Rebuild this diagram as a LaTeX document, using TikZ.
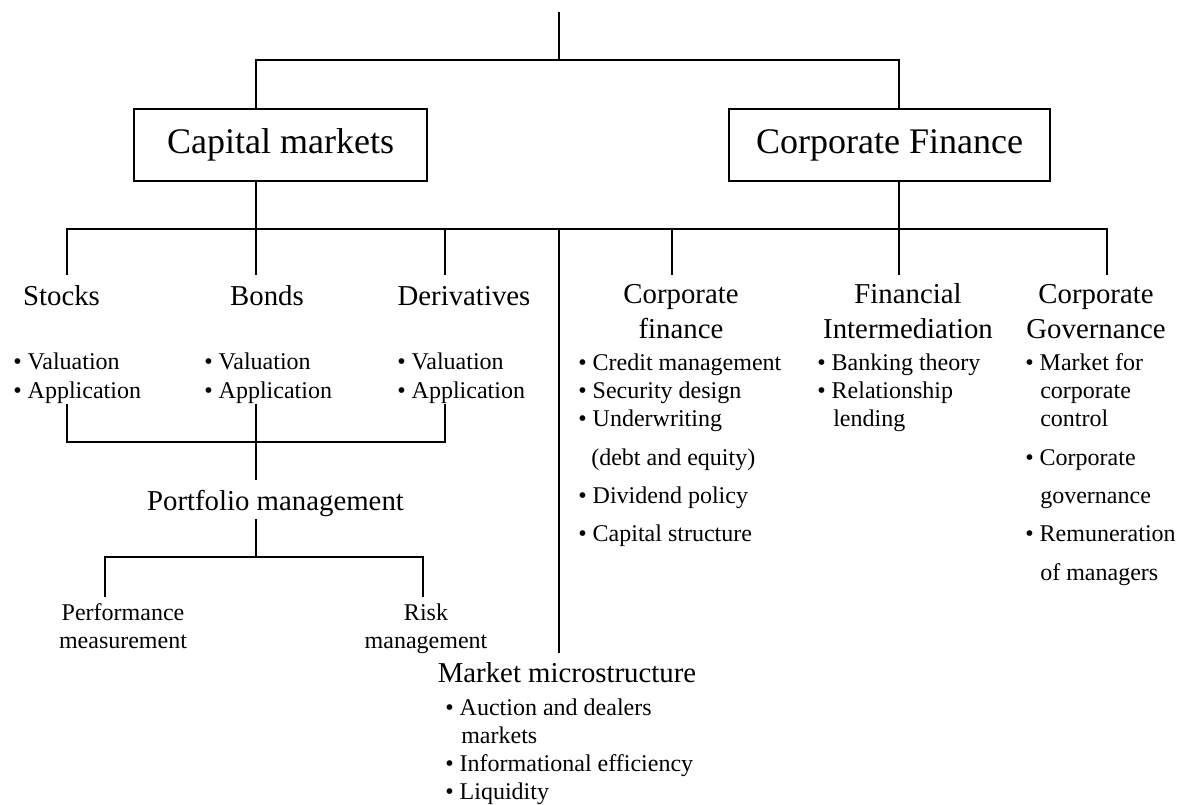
\documentclass[tikz,border=0pt]{standalone}
\usepackage{fontspec}
\setmainfont{Liberation Serif}
\begin{document}
\begin{tikzpicture}[x=1pt, y=-1pt, line width=2.6pt,
	topic/.style={draw, font=\fontsize{36}{43}\selectfont, minimum height=72pt, inner sep=0pt},
	head/.style={font=\fontsize{28.8}{34}\selectfont, anchor=base, inner sep=0pt},
	item/.style={font=\fontsize{24}{28}\selectfont, anchor=base west, inner sep=0pt},
	leaf/.style={font=\fontsize{24}{28}\selectfont, anchor=base, inner sep=0pt}]
	
	\useasboundingbox (0,0) rectangle (1188,805);
	
	\node[topic, minimum width=293pt] (cm) at (280.5,145) {Capital markets};
	\node[topic, minimum width=321pt] (cf) at (889.5,145) {Corporate Finance};
	
	\node[head] (stk) at (61.5,305) {Stocks};
	\node[head] (bnd) at (267,305) {Bonds};
	\node[head] (drv) at (464,305) {Derivatives};
	\node[head] (cfn1) at (681,303) {Corporate};
	\node[head] (cfn2) at (681,338) {finance};
	\node[head] (fin1) at (908,303) {Financial};
	\node[head] (fin2) at (908,338) {Intermediation};
	\node[head] (gov1) at (1096,303) {Corporate};
	\node[head] (gov2) at (1096,338) {Governance};
	\node[head] (pfm) at (275.5,510) {Portfolio management};
	\node[head] (mic) at (567,682) {Market microstructure};
	
	\node[item] (stk-v) at (12,369) {\textbullet\ Valuation};
	\node[item] (stk-a) at (12,398) {\textbullet\ Application};
	\node[item] (bnd-v) at (203,369) {\textbullet\ Valuation};
	\node[item] (bnd-a) at (203,398) {\textbullet\ Application};
	\node[item] (drv-v) at (396,369) {\textbullet\ Valuation};
	\node[item] (drv-a) at (396,398) {\textbullet\ Application};
	
	\node[item] (cfn-a) at (577,370) {\textbullet\ Credit management};
	\node[item] (cfn-b) at (577,398) {\textbullet\ Security design};
	\node[item] (cfn-c) at (577,426) {\textbullet\ Underwriting};
	\node[item] (cfn-d) at (590,465) {(debt and equity)};
	\node[item] (cfn-e) at (577,503) {\textbullet\ Dividend policy};
	\node[item] (cfn-f) at (577,541) {\textbullet\ Capital structure};
	
	\node[item] (fin-a) at (816,370) {\textbullet\ Banking theory};
	\node[item] (fin-b) at (816,398) {\textbullet\ Relationship};
	\node[item] (fin-c) at (832,426) {lending};
	
	\node[item] (gov-a) at (1024,370) {\textbullet\ Market for};
	\node[item] (gov-b) at (1039,398) {corporate};
	\node[item] (gov-c) at (1039,426) {control};
	\node[item] (gov-d) at (1024,465) {\textbullet\ Corporate};
	\node[item] (gov-e) at (1039,503) {governance};
	\node[item] (gov-f) at (1024,541) {\textbullet\ Remuneration};
	\node[item] (gov-g) at (1039,580) {of managers};
	
	\node[item] (mic-a) at (444,715) {\textbullet\ Auction and dealers};
	\node[item] (mic-b) at (460,743) {markets};
	\node[item] (mic-c) at (444,771) {\textbullet\ Informational efficiency};
	\node[item] (mic-d) at (444,799) {\textbullet\ Liquidity};
	
	\node[leaf] (perf1) at (123,620) {Performance};
	\node[leaf] (perf2) at (123,648) {measurement};
	\node[leaf] (risk1) at (426,620) {Risk};
	\node[leaf] (risk2) at (426,648) {management};
	
	% tree lines
	\coordinate (top) at (559,12);
	\coordinate (hub) at (559,60);
	\coordinate (bar) at (559,229);
	\coordinate (t-stk) at (67,275);
	\coordinate (t-bnd) at (256,275);
	\coordinate (t-drv) at (445,275);
	\coordinate (t-cfn) at (672,275);
	\coordinate (t-fin) at (899,275);
	\coordinate (t-gov) at (1107,275);
	\coordinate (t-mic) at (559,653);
	
	\draw (top) -- (hub);
	\draw (cm.north -| t-bnd) |- (hub) -| (cf.north -| t-fin);
	\draw (cm.south -| t-bnd) -- (t-bnd);
	\draw (cf.south -| t-fin) -- (t-fin);
	\draw (t-stk) |- (bar) -| (t-gov);
	\draw (t-drv |- bar) -- (t-drv);
	\draw (t-cfn |- bar) -- (t-cfn);
	\draw (bar) -- (t-mic);
	
	\coordinate (a-stk) at (67,404);
	\coordinate (a-bnd) at (256,404);
	\coordinate (a-drv) at (445,404);
	\coordinate (a-bar) at (256,442);
	\coordinate (pf-in) at (256,480);
	\coordinate (pf-out) at (256,519);
	\coordinate (pf-bar) at (256,557);
	\coordinate (p-perf) at (105,597);
	\coordinate (p-risk) at (423,597);
	
	\draw (a-stk) |- (a-bar) -| (a-drv);
	\draw (a-bnd) -- (pf-in);
	\draw (pf-out) -- (pf-bar);
	\draw (p-perf) |- (pf-bar) -| (p-risk);
	
\end{tikzpicture}
\end{document}
